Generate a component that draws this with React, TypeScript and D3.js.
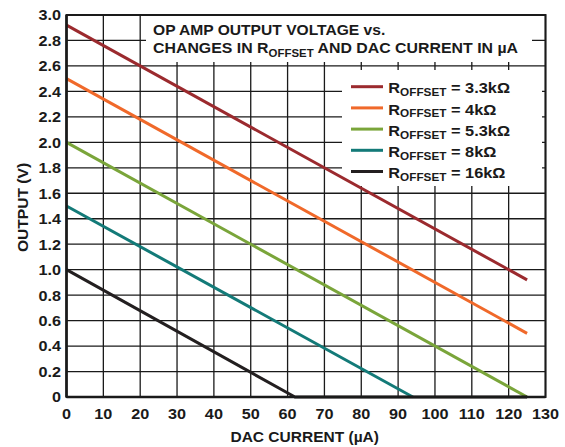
import React from "react";
import * as d3 from "d3";

const xTicks = [0, 10, 20, 30, 40, 50, 60, 70, 80, 90, 100, 110, 120, 130];
const yTicks = [0, 0.2, 0.4, 0.6, 0.8, 1.0, 1.2, 1.4, 1.6, 1.8, 2.0, 2.2, 2.4, 2.6, 2.8, 3.0];
const yTickLabels = ["0", "0.2", "0.4", "0.6", "0.8", "1.0", "1.2", "1.4", "1.6", "1.8", "2.0", "2.2", "2.4", "2.6", "2.8", "3.0"];

const seriesNames = ["3.3kΩ", "4kΩ", "5.3kΩ", "8kΩ", "16kΩ"];
const seriesColors = ["#9b2a2e", "#f0692a", "#7aa53a", "#137a78", "#231f20"];
const s33 = [[0, 2.92], [125, 0.92]];
const s4 = [[0, 2.5], [125, 0.5]];
const s53 = [[0, 2.0], [125, 0.0]];
const s8 = [[0, 1.5], [94, 0.0]];
const s16 = [[0, 1.0], [62, 0.0], [125, 0.0]];
const seriesData = [s33, s4, s53, s8, s16];

const FONT = "'Liberation Sans', Arial, Helvetica, sans-serif";
const INK = "#1a1a1a";

export default function App() {
  const W = 565, H = 447;
  const L = 66.5, R = 545.5, T = 15, B = 397;
  const x = d3.scaleLinear().domain([0, 130]).range([L, R]);
  const y = d3.scaleLinear().domain([0, 3]).range([B, T]);
  const line = d3.line<number[]>().x(d => x(d[0])).y(d => y(d[1]));
  const st = (px: number, py: number, s: number) => `translate(${px},${py}) scale(${s},1)`;

  return (
    <svg width={W} height={H} style={{ position: "absolute", left: 0, top: 0, background: "#fff" }} fontFamily={FONT}>
      <rect x={0} y={0} width={W} height={H} fill="#fff" />
      {/* grid */}
      {xTicks.map(t => (
        <line key={"gx" + t} x1={x(t)} x2={x(t)} y1={T} y2={B} stroke={INK} strokeWidth={1.3} />
      ))}
      {yTicks.map(t => (
        <line key={"gy" + t} x1={L} x2={R} y1={y(t)} y2={y(t)} stroke={INK} strokeWidth={1.3} />
      ))}
      {/* title box */}
      <rect x={146} y={T + 1} width={386} height={46} fill="#fff" />
      {/* legend box */}
      <rect x={342} y={70} width={200} height={116} fill="#fff" />
      {/* data lines */}
      {seriesData.map((d, i) => (
        <path key={"s" + i} d={line(d) || ""} fill="none" stroke={seriesColors[i]} strokeWidth={3} strokeLinejoin="round" />
      ))}
      {/* frame */}
      <rect x={L} y={T} width={R - L} height={B - T} fill="none" stroke={INK} strokeWidth={2} />
      <line x1={L} x2={R} y1={B} y2={B} stroke={INK} strokeWidth={2.5} />
      <line x1={L} x2={L} y1={T} y2={B} stroke={INK} strokeWidth={2.5} />
      {/* title */}
      <text transform={st(153, 34.7, 1.04)} fontSize={15} fontWeight="bold" fill={INK}>OP AMP OUTPUT VOLTAGE vs.</text>
      <text transform={st(153, 53.3, 1.06)} fontSize={15} fontWeight="bold" fill={INK}>
        CHANGES IN R
        <tspan fontSize={10.8} dy={3.4}>OFFSET</tspan>
        <tspan dy={-3.4}> AND DAC CURRENT IN µA</tspan>
      </text>
      {/* legend */}
      {seriesNames.map((n, i) => {
        const ly = 86.7 + i * 21.2;
        return (
          <g key={"l" + i}>
            <line x1={351} x2={383} y1={ly} y2={ly} stroke={seriesColors[i]} strokeWidth={3} />
            <text transform={st(388.3, ly + 6.6, 1.09)} fontSize={15} fontWeight="bold" fill={INK}>
              R
              <tspan fontSize={10.8} dy={2.8}>OFFSET</tspan>
              <tspan dy={-2.8}>{" = " + n}</tspan>
            </text>
          </g>
        );
      })}
      {/* y tick labels */}
      {yTicks.map((t, i) => (
        <text key={"yl" + t} transform={st(61, y(t) + 5.4, 1.08)} fontSize={15} fontWeight="bold" textAnchor="end" fill={INK}>
          {yTickLabels[i]}
        </text>
      ))}
      {/* x tick labels */}
      {xTicks.map(t => (
        <text key={"xl" + t} transform={st(x(t), 419, 1.08)} fontSize={15} fontWeight="bold" textAnchor="middle" fill={INK}>
          {t}
        </text>
      ))}
      {/* axis titles */}
      <text transform={st(304.7, 441.7, 1.035)} fontSize={15} fontWeight="bold" textAnchor="middle" fill={INK}>DAC CURRENT (µA)</text>
      <text transform={`translate(27.5,207.5) rotate(-90) scale(1.04,1)`} fontSize={15} fontWeight="bold" textAnchor="middle" fill={INK}>OUTPUT (V)</text>
    </svg>
  );
}
